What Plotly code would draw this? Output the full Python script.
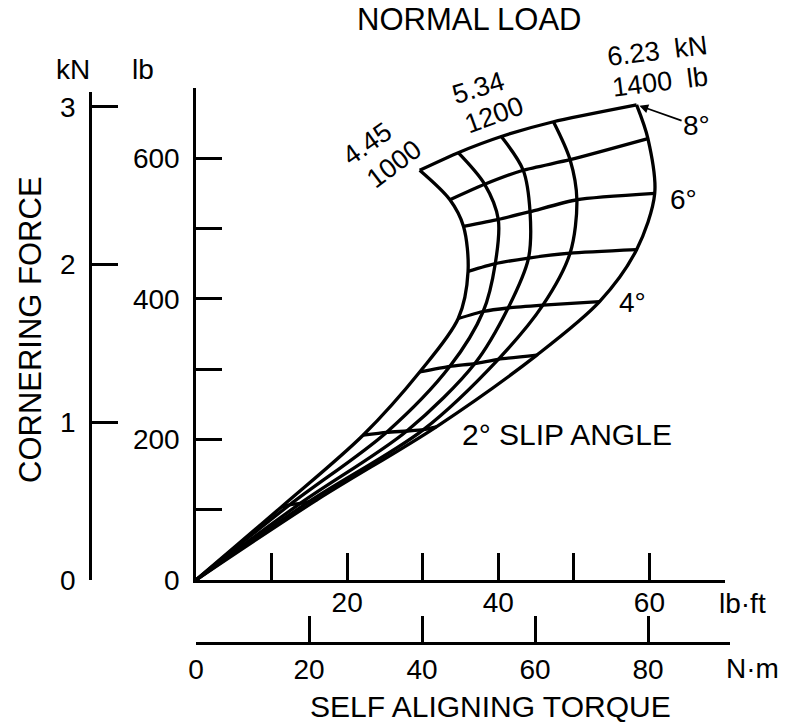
import plotly.graph_objects as go

W, H = 793, 727

# ---------------- data ----------------
loads_lb = [1000, 1100, 1200, 1300, 1400]
slip_angles = [1, 2, 3, 4, 5, 6, 7, 8]

# self aligning torque (lb·ft) and cornering force (lb) for each slip angle 1°..8°
torque_1000 = [11.3, 22.1, 29.6, 34.7, 36.0, 35.4, 33.6, 29.6]
force_1000 = [104, 206, 296, 372, 439, 503, 541, 583]
torque_1100 = [12.4, 25.2, 33.6, 38.0, 39.6, 40.0, 38.2, 34.7]
force_1100 = [107, 210, 304, 382, 450, 513, 563, 608]
torque_1200 = [13.8, 27.9, 36.9, 41.3, 44.0, 44.2, 43.3, 40.4]
force_1200 = [109, 212, 308, 387, 458, 524, 583, 631]
torque_1300 = [14.9, 30.1, 40.0, 45.9, 49.5, 50.4, 49.5, 47.3]
force_1300 = [111, 214, 314, 391, 465, 541, 598, 652]
torque_1400 = [16.0, 31.8, 45.1, 53.4, 58.3, 60.7, 59.8, 58.3]
force_1400 = [114, 218, 320, 396, 470, 550, 628, 676]

torques = [torque_1000, torque_1100, torque_1200, torque_1300, torque_1400]
forces = [force_1000, force_1100, force_1200, force_1300, force_1400]

lbft_ticks = [0, 10, 20, 30, 40, 50, 60, 70]
lbft_labels = ["", "", "20", "", "40", "", "60", ""]
lb_ticks = [0, 100, 200, 300, 400, 500, 600, 700]
lb_labels = ["0", "", "200", "", "400", "", "600", ""]
kN_ticks = [0, 1, 2, 3]
kN_labels = ["0", "1", "2", "3"]
Nm_ticks = [0, 20, 40, 60, 80]
Nm_labels = ["0", "20", "40", "60", "80"]

# ---------------- layout geometry (pixels) ----------------
X0, X70 = 196, 725          # lb·ft axis
Y0, Y700 = 580, 88          # lb axis
KN_X, KN_TOP = 90, 92       # kN axis
KN_PER_PX = 1 / 157.7
NM_Y, NM_END, NM_PX = 643, 730, 5.65


def px(x):
    return x / W


def py(y):
    return 1 - y / H


FONT = "Liberation Sans, Arial, Helvetica, sans-serif"
LW = 3.3

fig = go.Figure()

# constant normal-load curves (from the origin)
for t, f in zip(torques, forces):
    fig.add_trace(go.Scatter(
        x=[0] + t, y=[0] + f, mode="lines",
        line=dict(color="black", width=LW, shape="spline", smoothing=0.9),
        showlegend=False, hoverinfo="skip"))

# constant slip-angle lines
for i, a in enumerate(slip_angles):
    fig.add_trace(go.Scatter(
        x=[t[i] for t in torques], y=[f[i] for f in forces], mode="lines",
        line=dict(color="black", width=LW, shape="spline", smoothing=0.6),
        showlegend=False, hoverinfo="skip"))

# carriers for the secondary axes
fig.add_trace(go.Scatter(x=[None], y=[None], xaxis="x", yaxis="y2",
                         showlegend=False, hoverinfo="skip"))
fig.add_trace(go.Scatter(x=[None], y=[None], xaxis="x2", yaxis="y",
                         showlegend=False, hoverinfo="skip"))

tickfont = dict(family=FONT, size=28, color="black")
axcommon = dict(showgrid=False, zeroline=False, showline=True, linecolor="black",
                linewidth=2.6, ticks="inside", tickwidth=2.6, tickcolor="black",
                tickfont=tickfont, fixedrange=True, automargin=False)

fig.update_layout(
    width=W, height=H, margin=dict(l=0, r=0, t=0, b=0, autoexpand=False),
    paper_bgcolor="white", plot_bgcolor="rgba(0,0,0,0)",
    xaxis=dict(domain=[px(X0), px(X70)], range=[0, 70], anchor="y",
               tickmode="array", tickvals=lbft_ticks, ticktext=lbft_labels,
               ticklen=27, ticklabelstandoff=-4, **axcommon),
    yaxis=dict(domain=[py(Y0), py(Y700)], range=[0, 700], anchor="x",
               tickmode="array", tickvals=lb_ticks, ticktext=lb_labels,
               ticklen=26, ticklabelstandoff=8, **axcommon),
    yaxis2=dict(domain=[py(Y0), py(KN_TOP)], range=[0, (Y0 - KN_TOP) * KN_PER_PX],
                anchor="free", position=px(KN_X),
                tickmode="array", tickvals=kN_ticks, ticktext=kN_labels,
                ticklen=26, ticklabelstandoff=8, **axcommon),
    xaxis2=dict(domain=[px(X0), px(NM_END)], range=[0, (NM_END - X0) / NM_PX],
                anchor="free", position=py(NM_Y),
                tickmode="array", tickvals=Nm_ticks, ticktext=Nm_labels,
                ticklen=26, ticklabelstandoff=1, **axcommon),
)

ann = []


def text(s, x, y, size=27, angle=0, xanchor="center"):
    ann.append(dict(text=s, x=px(x), y=py(y), xref="paper", yref="paper",
                    showarrow=False, textangle=angle, xanchor=xanchor, yanchor="middle",
                    font=dict(family=FONT, size=size, color="black")))


text("NORMAL LOAD", 469, 20, size=31)
text("kN", 73, 70, size=28)
text("lb", 143, 70, size=28)
text("CORNERING FORCE", 30, 330, size=31, angle=-90)
text("lb·ft", 742, 603, size=28)
text("N·m", 752, 668, size=28)
text("SELF ALIGNING TORQUE", 490, 706, size=30)
text("2° SLIP ANGLE", 460, 434, size=30, xanchor="left")
text("4°", 632, 302, size=28)
text("6°", 683, 200, size=28)
text("4.45", 367, 144, angle=-35)
text("1000", 394, 164, angle=-37)
text("5.34", 478, 88, angle=-17)
text("1200", 494, 115, angle=-20)
text("6.23  kN", 657, 51, angle=-7)
text("1400  lb", 660, 82, angle=-7)

# 8° label with arrow to the top corner of the grid
ann.append(dict(text="8°", x=torque_1400[-1], y=force_1400[-1], xref="x", yref="y",
                showarrow=True, ax=60, ay=21, arrowhead=2, arrowsize=1.1,
                arrowwidth=1.6, arrowcolor="black", standoff=3,
                font=dict(family=FONT, size=28, color="black")))

fig.update_layout(annotations=ann)

fig.write_html("out.html")
